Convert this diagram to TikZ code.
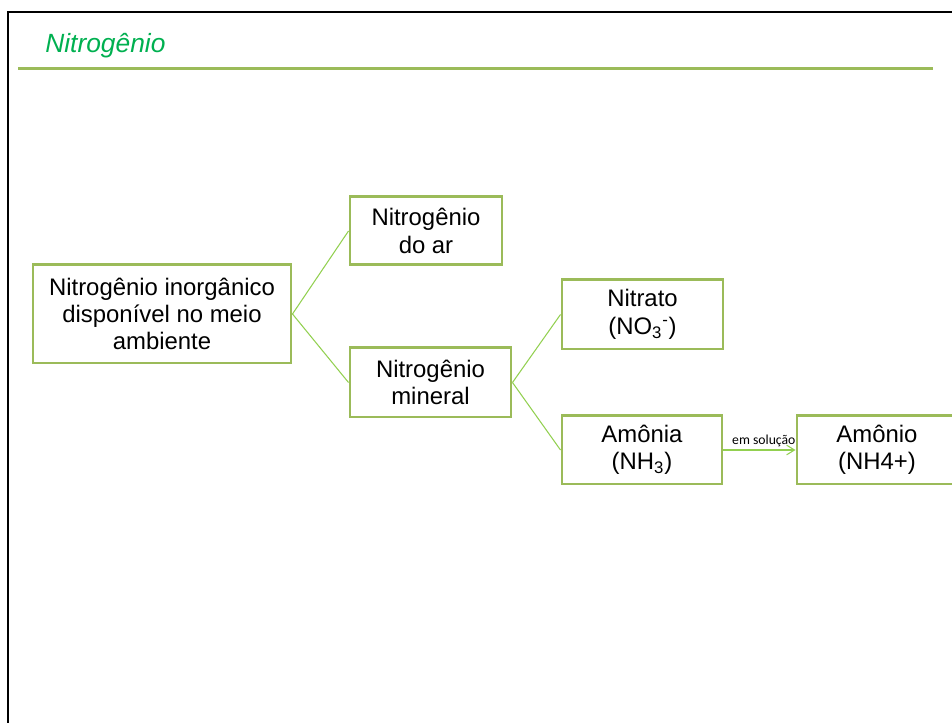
\documentclass[tikz,border=0pt]{standalone}
\usepackage{fontspec}
\setmainfont{Liberation Sans}
\newfontfamily\labelfont{Carlito}
\usetikzlibrary{arrows.meta}
\definecolor{titlegreen}{HTML}{00B050}
\definecolor{olivegreen}{HTML}{9BBB59}
\definecolor{linkgreen}{HTML}{92D050}
\tikzset{
	box/.style={draw=olivegreen, line width=1.7pt, fill=white, align=center, inner sep=0pt, font=\fontsize{13.6}{15.6}\selectfont},
	link/.style={draw=linkgreen, line width=0.6pt},
}

\begin{document}
\begin{tikzpicture}
			%%%%% START %%%%%
			
			\useasboundingbox (0, 0) rectangle (19.04, 14.46);
			
			\draw[line width=1.2pt] (0.16, 0) -- (0.16, 14.22) -- (19.04, 14.22);
			\node[anchor=base west, inner sep=0pt, text=titlegreen, font=\fontsize{15}{18}\selectfont\itshape] (title) at (0.9, 13.4) {Nitrogênio};
			\draw[olivegreen, line width=1.7pt] (0.36, 13.08) -- (18.66, 13.08);
			
			\node[box, minimum width=5.16cm, minimum height=1.96cm] (inorg) at (3.24, 8.18) {Nitrogênio inorgânico\\disponível no meio\\ambiente};
			\node[box, minimum width=3.04cm, minimum height=1.36cm] (air) at (8.52, 9.84) {Nitrogênio\\do ar};
			\node[box, minimum width=3.22cm, minimum height=1.38cm] (mineral) at (8.61, 6.81) {Nitrogênio\\mineral};
			\node[box, minimum width=3.22cm, minimum height=1.38cm] (nitrate) at (12.85, 8.17) {Nitrato\\(NO\textsubscript{3}\textsuperscript{-})};
			\node[box, minimum width=3.2cm, minimum height=1.36cm] (ammonia) at (12.84, 5.46) {Amônia\\(NH\textsubscript{3})};
			\node[box, minimum width=3.2cm, minimum height=1.36cm] (ammonium) at (17.54, 5.46) {Amônio\\(NH4+)};
			
			\draw[link] (inorg.east) -- (air.west);
			\draw[link] (inorg.east) -- (mineral.west);
			\draw[link] (mineral.east) -- (nitrate.west);
			\draw[link] (mineral.east) -- (ammonia.west);
			\draw[link, -{Straight Barb[length=4.5pt, width=5.5pt]}] (ammonia.east) -- node[above, pos=0.56, inner sep=1.5pt, text=black, font=\labelfont\fontsize{7.8}{9}\selectfont] (solution) {em solução} (ammonium.west);
			
			%%%%% END %%%%%
\end{tikzpicture}
\end{document}
